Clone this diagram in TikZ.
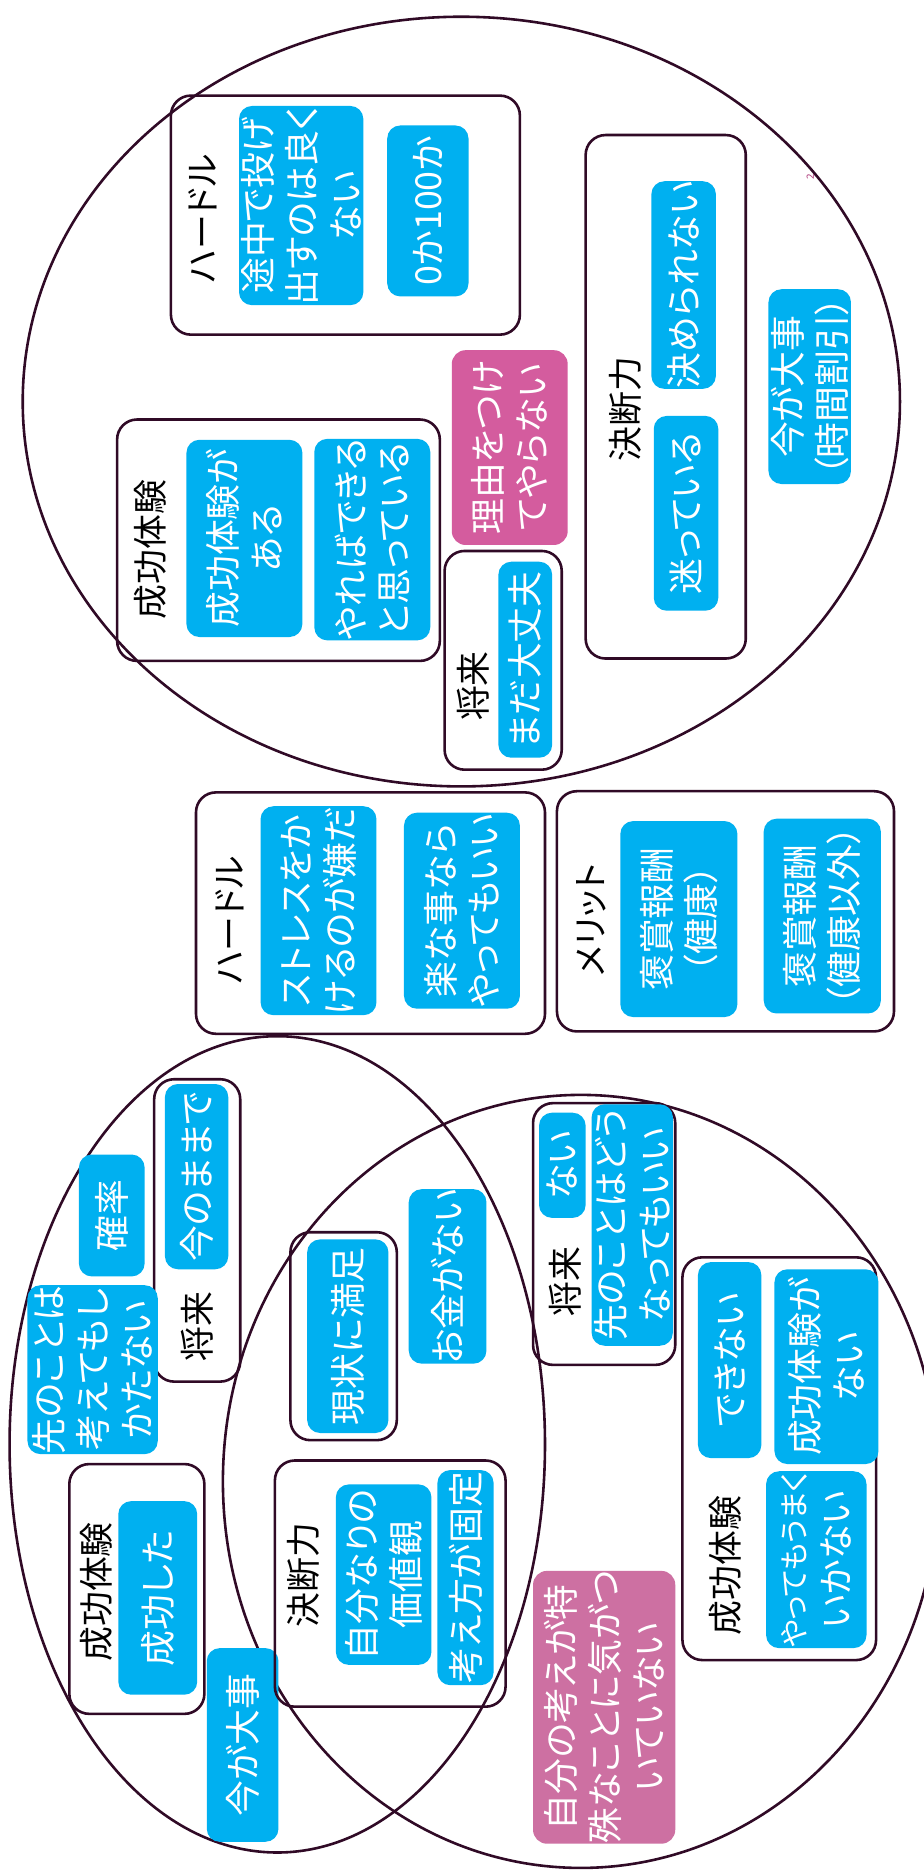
\documentclass[tikz,border=0pt]{standalone}
\usepackage{fontspec}
\setmainfont{Noto Sans CJK JP}[RawFeature={+palt}]
\definecolor{outl}{HTML}{300A26}
\definecolor{sky}{HTML}{00B0F0}
\definecolor{pinkA}{HTML}{D45C9E}
\definecolor{pinkB}{HTML}{CD70A2}
\definecolor{tinypink}{HTML}{B0407F}
\newcommand{\bx}[7]{\node[#1, minimum width={((#6)-(#4))*0.6pt}, minimum height={((#5)-(#3))*0.6pt}] (#2) at ({((#3)+(#5))/2},{((#4)+(#6))/2}) {#7};}
\begin{document}
\begin{tikzpicture}[x=0.6pt,y=-0.6pt,
  txt/.style={font=\fontsize{18}{22}\selectfont, align=center},
  frame/.style={draw=outl, line width=1.3pt, rounded corners=10pt, rotate=90, inner sep=0pt},
  bluebox/.style={fill=sky, rounded corners=6.5pt, rotate=90, text=white, inner sep=0pt, txt},
  pinkboxA/.style={fill=pinkA, rounded corners=7pt, rotate=90, text=white, inner sep=0pt, txt},
  pinkboxB/.style={fill=pinkB, rounded corners=7pt, rotate=90, text=white, inner sep=0pt, txt},
  title/.style={rotate=90, text=black, inner sep=0pt, font=\fontsize{17.5}{22}\selectfont},
  group/.style={draw=outl, line width=1.3pt}]
\useasboundingbox[fill=white] (0,0) rectangle (773,1568);
\begin{scope}
\clip (0,0) rectangle (773,1568);
\draw[group] (386,336) ellipse [x radius=367, y radius=322];
\draw[group] (232,1208.5) ellipse [x radius=224, y radius=341.5];
\draw[group] (486,1239.5) ellipse [x radius=299.5, y radius=323.4];
\end{scope}
\node[rotate=90, text=tinypink, font=\fontsize{5}{6}\selectfont, inner sep=0pt] (two) at (678,148) {2};
% ---------- top group ----------
\bx{frame}{fHur1}{143}{80}{435}{280}{}
\node[title] (tHur1) at (170,183) {ハードル};
\bx{bluebox}{bHur1a}{200}{90}{304}{254}{途中で投げ\\出すのは良く\\ない}
\bx{bluebox}{bHur1b}{324}{105}{392}{248}{0か100か}
\bx{frame}{fDec1}{490}{113}{624}{551}{}
\node[title] (tDec1) at (523,342) {決断力};
\bx{bluebox}{bDec1a}{545}{157}{599}{320}{決められない}
\bx{bluebox}{bDec1b}{547}{348}{601}{511}{迷っている}
\bx{bluebox}{bNow1}{643}{242}{712}{405}{今が大事\\（時間割引）}
\bx{pinkboxA}{pReason}{378}{293}{475}{456}{理由をつけ\\てやらない}
\bx{frame}{fSuc1}{98}{351}{368}{553}{}
\node[title] (tSuc1) at (126,460) {成功体験};
\bx{bluebox}{bSuc1a}{156}{368}{253}{533}{成功体験が\\ある}
\bx{bluebox}{bSuc1b}{263}{370}{360}{533}{やればできる\\と思っている}
\bx{frame}{fFut1}{372}{461}{470}{644}{}
\node[title] (tFut1) at (396,574) {将来};
\bx{bluebox}{bFut1}{417}{470}{462}{634}{まだ大丈夫}
% ---------- middle ----------
\bx{frame}{fHur2}{164}{663}{456}{865}{}
\node[title] (tHur2) at (192,770) {ハードル};
\bx{bluebox}{bHur2a}{218}{680}{315}{844}{ストレスをか\\けるのが嫌だ}
\bx{bluebox}{bHur2b}{338}{680}{435}{844}{楽な事なら\\やってもいい}
\bx{frame}{fMer}{466}{662}{748}{863}{}
\node[title] (tMer) at (495,770) {メリット};
\bx{bluebox}{bMer1}{519}{687}{617}{851}{褒賞報酬\\（健康）}
\bx{bluebox}{bMer2}{639}{685}{737}{848}{褒賞報酬\\（健康以外）}
% ---------- bottom left ----------
\bx{frame}{fFut2}{129}{903}{201}{1156}{}
\node[title] (tFut2) at (165,1110) {将来};
\bx{bluebox}{bFut2}{138}{907}{191}{1062}{今のままで}
\bx{bluebox}{bProb}{66}{966}{121}{1068}{確率}
\bx{bluebox}{bThink}{23}{1076}{132}{1216}{先のことは\\考えてもし\\かたない}
\bx{frame}{fSuc2}{58}{1225}{171}{1434}{}
\node[title] (tSuc2) at (81,1332) {成功体験};
\bx{bluebox}{bSuc2}{99}{1256}{165}{1418}{成功した}
\bx{bluebox}{bNow2}{173}{1379}{233}{1541}{今が大事}
% ---------- overlap ----------
\bx{frame}{fSat}{243}{1031}{332}{1205}{}
\bx{bluebox}{bSat}{257}{1037}{325}{1199}{現状に満足}
\bx{frame}{fDec2}{230}{1222}{423}{1428}{}
\node[title] (tDec2) at (254,1318) {決断力};
\bx{bluebox}{bDec2a}{281}{1242}{361}{1393}{自分なりの\\価値観}
\bx{bluebox}{bDec2b}{366}{1230}{413}{1410}{考え方が固定}
% ---------- bottom right ----------
\bx{bluebox}{bMoney}{342}{995}{407}{1141}{お金がない}
\bx{frame}{fFut3}{446}{923}{565}{1142}{}
\node[title] (tFut3) at (473,1072) {将来};
\bx{bluebox}{bFut3a}{451}{931}{490}{1019}{ない}
\bx{bluebox}{bFut3b}{495}{924}{563}{1126}{先のことはどう\\なってもいい}
\bx{frame}{fSuc3}{571}{1052}{733}{1389}{}
\node[title] (tSuc3) at (607,1310) {成功体験};
\bx{bluebox}{bSuc3a}{584}{1056}{637}{1220}{できない}
\bx{bluebox}{bSuc3b}{648}{1062}{735}{1225}{成功体験が\\ない}
\bx{bluebox}{bSuc3c}{641}{1231}{725}{1379}{\fontsize{15}{22}\selectfont やってもうまく\\いかない}
\bx{pinkboxB}{pSpecial}{446}{1318}{565}{1539}{自分の考えが特\\殊なことに気がつ\\いていない}
\end{tikzpicture}
\end{document}
